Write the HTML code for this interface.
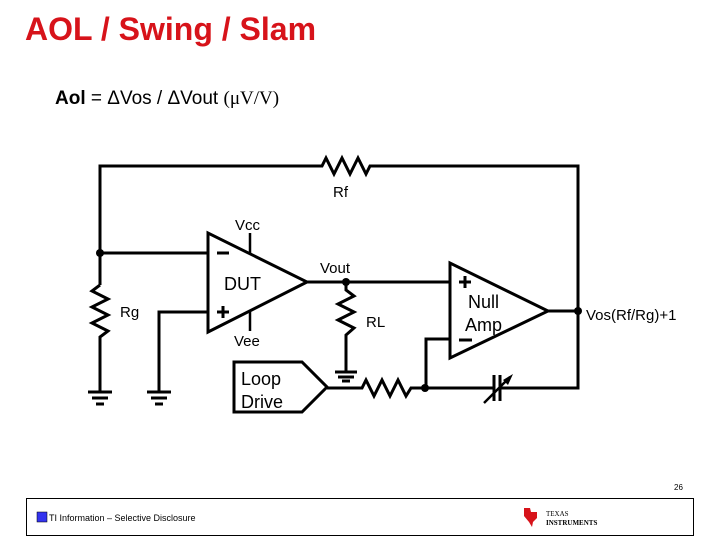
<!DOCTYPE html>
<html><head><meta charset="utf-8"><style>
body{margin:0;width:720px;height:540px;background:#fff;position:relative;overflow:hidden;font-family:"Liberation Sans",sans-serif}
.t{position:absolute;white-space:nowrap}
</style></head><body>
<div class="t" style="left:25px;top:11px;font-size:32px;font-weight:bold;color:#d7131a">AOL / Swing / Slam</div>
<div class="t" style="left:55px;top:88px;font-size:19px;color:#000"><b>Aol</b> = ΔVos / ΔVout <span style="font-family:'Liberation Serif',serif">(μV/V)</span></div>
<svg width="720" height="540" style="position:absolute;left:0;top:0" font-family="Liberation Sans, sans-serif">
<g stroke="#000" stroke-width="3" fill="none" stroke-linejoin="miter">
<polyline points="100,285 100,166 322,166 326,158 334,174 342,158 350,174 358,158 366,174 370,166 578,166 578,388 500,388"/>
<polyline points="100,285 92,291 108,299 92,307 108,315 92,323 108,331 100,337 100,392"/>
<line x1="100" y1="253" x2="208" y2="253"/>
<polyline points="208,312 159,312 159,392"/>
<polygon points="208,233 208,332 307,282"/>
<line x1="250" y1="233" x2="250" y2="253" stroke-width="2.5"/>
<line x1="250" y1="312" x2="250" y2="331" stroke-width="2.5"/>
<line x1="307" y1="282" x2="450" y2="282"/>
<polyline points="346,282 346,290 354,296 338,304 354,312 338,320 354,328 346,335 346,372"/>
<polygon points="450,263 450,358 548,311"/>
<line x1="548" y1="311" x2="578" y2="311"/>
<polyline points="450,339 426,339 426,388"/>
<polygon points="234,362 302,362 327,387 302,412 234,412"/>
<polyline points="327,388 362,388 366,380 374,396 382,380 390,396 398,380 406,396 411,388 494,388"/>
<line x1="494" y1="375" x2="494" y2="401"/>
<line x1="500" y1="375" x2="500" y2="401"/>
<line x1="484" y1="403" x2="510" y2="377" stroke-width="2.5"/>
</g>
<polygon points="503,380 513,374 508,385" fill="#000"/>
<g stroke="#000" stroke-width="3">
<line x1="88" y1="392" x2="112" y2="392"/><line x1="92" y1="398" x2="108" y2="398"/><line x1="96" y1="404" x2="104" y2="404"/>
<line x1="147" y1="392" x2="171" y2="392"/><line x1="151" y1="398" x2="167" y2="398"/><line x1="155" y1="404" x2="163" y2="404"/>
<line x1="335" y1="372" x2="357" y2="372"/><line x1="338" y1="377" x2="354" y2="377"/><line x1="342" y1="381" x2="350" y2="381"/>
<line x1="217" y1="253" x2="229" y2="253"/>
<line x1="217" y1="312" x2="229" y2="312"/><line x1="223" y1="306" x2="223" y2="318"/>
<line x1="459" y1="282" x2="471" y2="282"/><line x1="465" y1="276" x2="465" y2="288"/>
<line x1="459" y1="340" x2="472" y2="340"/>
</g>
<g fill="#000">
<circle cx="100" cy="253" r="4"/><circle cx="346" cy="282" r="4"/><circle cx="578" cy="311" r="4"/><circle cx="425" cy="388" r="4"/>
</g>
<g fill="#000" font-size="15">
<text x="333" y="197">Rf</text>
<text x="120" y="317">Rg</text>
<text x="235" y="230">Vcc</text>
<text x="234" y="346">Vee</text>
<text x="320" y="273">Vout</text>
<text x="366" y="327">RL</text>
<text x="586" y="320">Vos(Rf/Rg)+1</text>
<text x="224" y="290" font-size="18">DUT</text>
<text x="468" y="308" font-size="18">Null</text>
<text x="465" y="331" font-size="18">Amp</text>
<text x="241" y="385" font-size="18">Loop</text>
<text x="241" y="408" font-size="18">Drive</text>
<text x="674" y="490" font-size="8">26</text>
</g>
<rect x="26.5" y="498.5" width="667" height="37" fill="none" stroke="#000" stroke-width="1"/>
<rect x="37" y="512" width="10" height="10" fill="#3333ee" stroke="#000" stroke-width="0.5"/>
<text x="49" y="521" font-size="9" fill="#000">TI Information – Selective Disclosure</text>
<path d="M524,508 L530,508 L531,512 L537,512 L537,518 L533,522 L532,527 L529,522 L524,516 Z" fill="#d7131a"/>
<text x="546" y="516" font-size="7" fill="#000" font-family="Liberation Serif,serif">TEXAS</text>
<text x="546" y="525" font-size="7" fill="#000" font-family="Liberation Serif,serif" font-weight="bold">INSTRUMENTS</text>
</svg>
</body></html>
